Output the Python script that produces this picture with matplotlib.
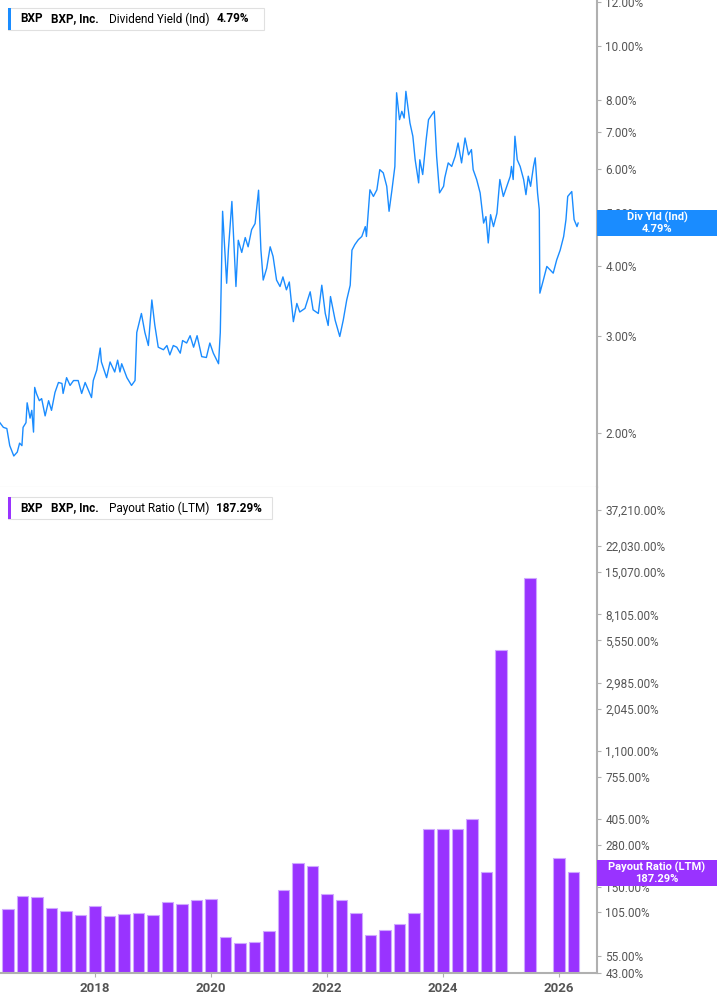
import matplotlib.pyplot as plt
import matplotlib.ticker as mticker
from matplotlib.patches import Rectangle

plt.rcParams['font.family'] = ['Roboto', 'DejaVu Sans']

# dividend yield (%), x in decimal years
yld_t = [2016.36, 2016.42, 2016.48, 2016.53, 2016.60, 2016.66, 2016.70, 2016.74, 2016.76, 2016.81,
         2016.83, 2016.88, 2016.91, 2016.94, 2016.96, 2016.99, 2017.04, 2017.08, 2017.14, 2017.20,
         2017.25, 2017.31, 2017.37, 2017.43, 2017.45, 2017.51, 2017.57, 2017.63, 2017.71, 2017.77,
         2017.83, 2017.88, 2017.94, 2017.97, 2018.03, 2018.09, 2018.11, 2018.20, 2018.26, 2018.34,
         2018.39, 2018.43, 2018.46, 2018.55, 2018.63, 2018.69, 2018.72, 2018.80, 2018.86, 2018.92,
         2018.98, 2019.03, 2019.09, 2019.18, 2019.24, 2019.29, 2019.35, 2019.41, 2019.47, 2019.51,
         2019.58, 2019.64, 2019.70, 2019.76, 2019.84, 2019.92, 2019.98, 2020.04, 2020.13, 2020.16,
         2020.20, 2020.27, 2020.30, 2020.36, 2020.43, 2020.47, 2020.53, 2020.59, 2020.64, 2020.70,
         2020.76, 2020.82, 2020.86, 2020.90, 2020.96, 2021.02, 2021.07, 2021.13,
         2021.19, 2021.24, 2021.30, 2021.35, 2021.42, 2021.48, 2021.53, 2021.62, 2021.71, 2021.76,
         2021.85, 2021.91, 2021.97, 2022.02, 2022.06, 2022.14, 2022.22, 2022.28, 2022.34, 2022.40,
         2022.43, 2022.48, 2022.54, 2022.60, 2022.66, 2022.68, 2022.74, 2022.80, 2022.86, 2022.91,
         2022.97, 2023.03, 2023.07, 2023.12, 2023.17, 2023.20, 2023.25, 2023.29, 2023.33, 2023.36,
         2023.43, 2023.48, 2023.52, 2023.58, 2023.60, 2023.65, 2023.71, 2023.75, 2023.81, 2023.85,
         2023.89, 2023.94, 2024.01, 2024.03, 2024.09, 2024.15, 2024.21, 2024.26, 2024.32, 2024.38,
         2024.44, 2024.49, 2024.52, 2024.58, 2024.64, 2024.70, 2024.74, 2024.78, 2024.82, 2024.87,
         2024.93, 2024.98, 2025.04, 2025.10, 2025.16, 2025.18, 2025.21, 2025.24, 2025.28, 2025.33,
         2025.39, 2025.43, 2025.47, 2025.51, 2025.56, 2025.59, 2025.63, 2025.66, 2025.67, 2025.73,
         2025.79, 2025.85, 2025.90, 2025.96, 2026.02, 2026.08, 2026.12, 2026.15, 2026.22, 2026.26,
         2026.31, 2026.33]
yld_v = [2.09, 2.05, 2.04, 1.90, 1.82, 1.85, 1.92, 1.90, 2.05, 2.09,
         2.27, 2.13, 2.20, 2.01, 2.42, 2.36, 2.29, 2.31, 2.15, 2.29,
         2.20, 2.37, 2.47, 2.46, 2.36, 2.52, 2.44, 2.49, 2.49, 2.36,
         2.47, 2.40, 2.32, 2.49, 2.60, 2.85, 2.69, 2.52, 2.69, 2.58,
         2.71, 2.58, 2.67, 2.52, 2.44, 2.49, 3.04, 3.29, 3.04, 2.88,
         3.48, 3.14, 2.86, 2.83, 2.88, 2.77, 2.88, 2.86, 2.79, 2.94,
         2.91, 3.00, 2.86, 3.00, 2.75, 2.74, 2.91, 2.79, 2.67, 3.04,
         5.03, 3.73, 4.29, 5.24, 3.68, 4.46, 4.24, 4.51, 4.34, 4.66,
         4.78, 5.49, 4.29, 3.78, 3.97, 4.34, 4.17, 3.78,
         3.68, 3.83, 3.63, 3.75, 3.18, 3.43, 3.31, 3.36, 3.60, 3.34,
         3.29, 3.70, 3.29, 3.13, 3.53, 3.20, 2.99, 3.20, 3.48, 3.70,
         4.28, 4.38, 4.47, 4.53, 4.72, 4.53, 5.50, 5.35, 5.50, 5.98,
         5.90, 5.58, 5.03, 5.50, 6.06, 8.23, 7.36, 7.62, 7.41, 8.28,
         7.26, 6.87, 6.23, 5.66, 6.23, 5.86, 6.78, 7.36, 7.52, 7.62,
         6.32, 5.43, 5.58, 5.78, 6.15, 6.06, 6.32, 6.68, 6.15, 6.82,
         6.36, 6.50, 5.98, 5.74, 5.43, 4.79, 4.92, 4.41, 4.96, 4.72,
         4.99, 5.74, 5.35, 5.58, 5.82, 6.06, 5.74, 6.87, 6.23, 6.06,
         5.74, 5.39, 5.82, 5.58, 6.06, 6.28, 5.43, 5.06, 3.58, 3.78,
         4.00, 3.94, 3.89, 4.11, 4.28, 4.53, 4.86, 5.35, 5.46, 4.86,
         4.72, 4.79]

# payout ratio LTM (%), quarterly; None = no bar
pay_t = [2016.5 + 0.25 * i for i in range(40)]
pay_v = [109.8, 133.4, 131, 110.6, 105.6, 99.9, 113.9, 98.5, 101.6, 102.6,
         100.7, 121.4, 117.8, 125.6, 127.4, 72.6, 66.3, 68.1, 79.1, 143.9,
         216, 204.7, 135.4, 124.4, 103.1, 74.8, 80.6, 87.6, 103.1, 351,
         353, 351, 405, 188.5, 4815, None, 13800, None, 230, 187.29]

yld_ticks = [2, 3, 4, 5, 6, 7, 8, 10, 12]
pay_ticks = [43, 55, 105, 150, 280, 405, 755, 1100, 2045, 2985, 5550, 8105, 15070, 22030, 37210]
years = [2018, 2020, 2022, 2024, 2026]

W, H = 717, 1005
fig = plt.figure(figsize=(W / 100, H / 100), dpi=100)
ax1 = fig.add_axes([0, 1 - 487 / H, 597 / W, 487 / H])
ax2 = fig.add_axes([0, 1 - 973 / H, 597 / W, 486 / H])

blue = '#1a8cff'
purple = '#9933ff'
grey = '#555555'
spine = '#b0b0b0'

ax1.plot(yld_t, yld_v, color=blue, lw=1.0)
ax1.set_yscale('log')
ax1.set_ylim(1.60, 12.1)

bt = [t for t, v in zip(pay_t, pay_v) if v is not None]
bv = [v for v in pay_v if v is not None]
ax2.bar(bt, bv, width=0.19, color=purple, edgecolor='#cfa8ff', linewidth=0.8)
ax2.set_yscale('log')
ax2.set_ylim(43, 52100)

for ax, ticks in ((ax1, yld_ticks), (ax2, pay_ticks)):
    ax.set_xlim(2016.362, 2026.655)
    ax.yaxis.tick_right()
    ax.set_yticks(ticks)
    ax.yaxis.set_minor_locator(mticker.NullLocator())
    ax.set_yticklabels([f'{t:,.2f}%' for t in ticks])
    ax.tick_params(axis='y', colors=spine, labelcolor=grey, labelsize=8.5, length=3, pad=3)
    for s in ('top', 'left'):
        ax.spines[s].set_visible(False)
    ax.spines['right'].set_color(spine)
    ax.spines['right'].set_linewidth(1.5)

ax1.set_xticks([])
ax1.spines['bottom'].set_color('#d0d0d0')
ax2.set_xticks(years)
ax2.set_xticklabels([str(y) for y in years], fontweight='bold')
ax2.tick_params(axis='x', colors=spine, labelcolor=grey, labelsize=9.5, length=3)
ax2.spines['bottom'].set_color(spine)
ax2.spines['bottom'].set_linewidth(1.5)


def legend(y, color, name, value, width):
    x0, h = 8, 22
    fig.patches.append(Rectangle((x0 / W, 1 - (y + h / 2) / H), width / W, h / H,
                                 transform=fig.transFigure, facecolor='white',
                                 edgecolor='#e0e0e0', lw=0.8))
    fig.patches.append(Rectangle((x0 / W, 1 - (y + h / 2) / H), 3 / W, h / H,
                                 transform=fig.transFigure, facecolor=color, lw=0))
    yy = 1 - y / H
    fig.text(20 / W, yy, 'BXP', fontsize=8.5, fontweight='bold', va='center')
    fig.text(51 / W, yy, 'BXP, Inc.', fontsize=8.5, fontweight='bold', va='center')
    t = fig.text(109 / W, yy, name, fontsize=8.5, va='center')
    fig.canvas.draw()
    bb = t.get_window_extent()
    fig.text((bb.x1 + 7) / W, yy, value, fontsize=8.5, fontweight='bold', va='center')


def last_label(y, color, line1, line2):
    fig.patches.append(Rectangle((597 / W, 1 - (y + 13) / H), 120 / W, 26 / H,
                                 transform=fig.transFigure, facecolor=color, lw=0))
    fig.text(657 / W, 1 - (y - 6) / H, line1, color='white', fontsize=8, fontweight='bold',
             ha='center', va='center')
    fig.text(657 / W, 1 - (y + 6) / H, line2, color='white', fontsize=8, fontweight='bold',
             ha='center', va='center')


legend(19, blue, 'Dividend Yield (Ind)', '4.79%', 256)
legend(508, purple, 'Payout Ratio (LTM)', '187.29%', 264)
last_label(223, blue, 'Div Yld (Ind)', '4.79%')
last_label(873, purple, 'Payout Ratio (LTM)', '187.29%')

fig.savefig('out.png', dpi=100)
